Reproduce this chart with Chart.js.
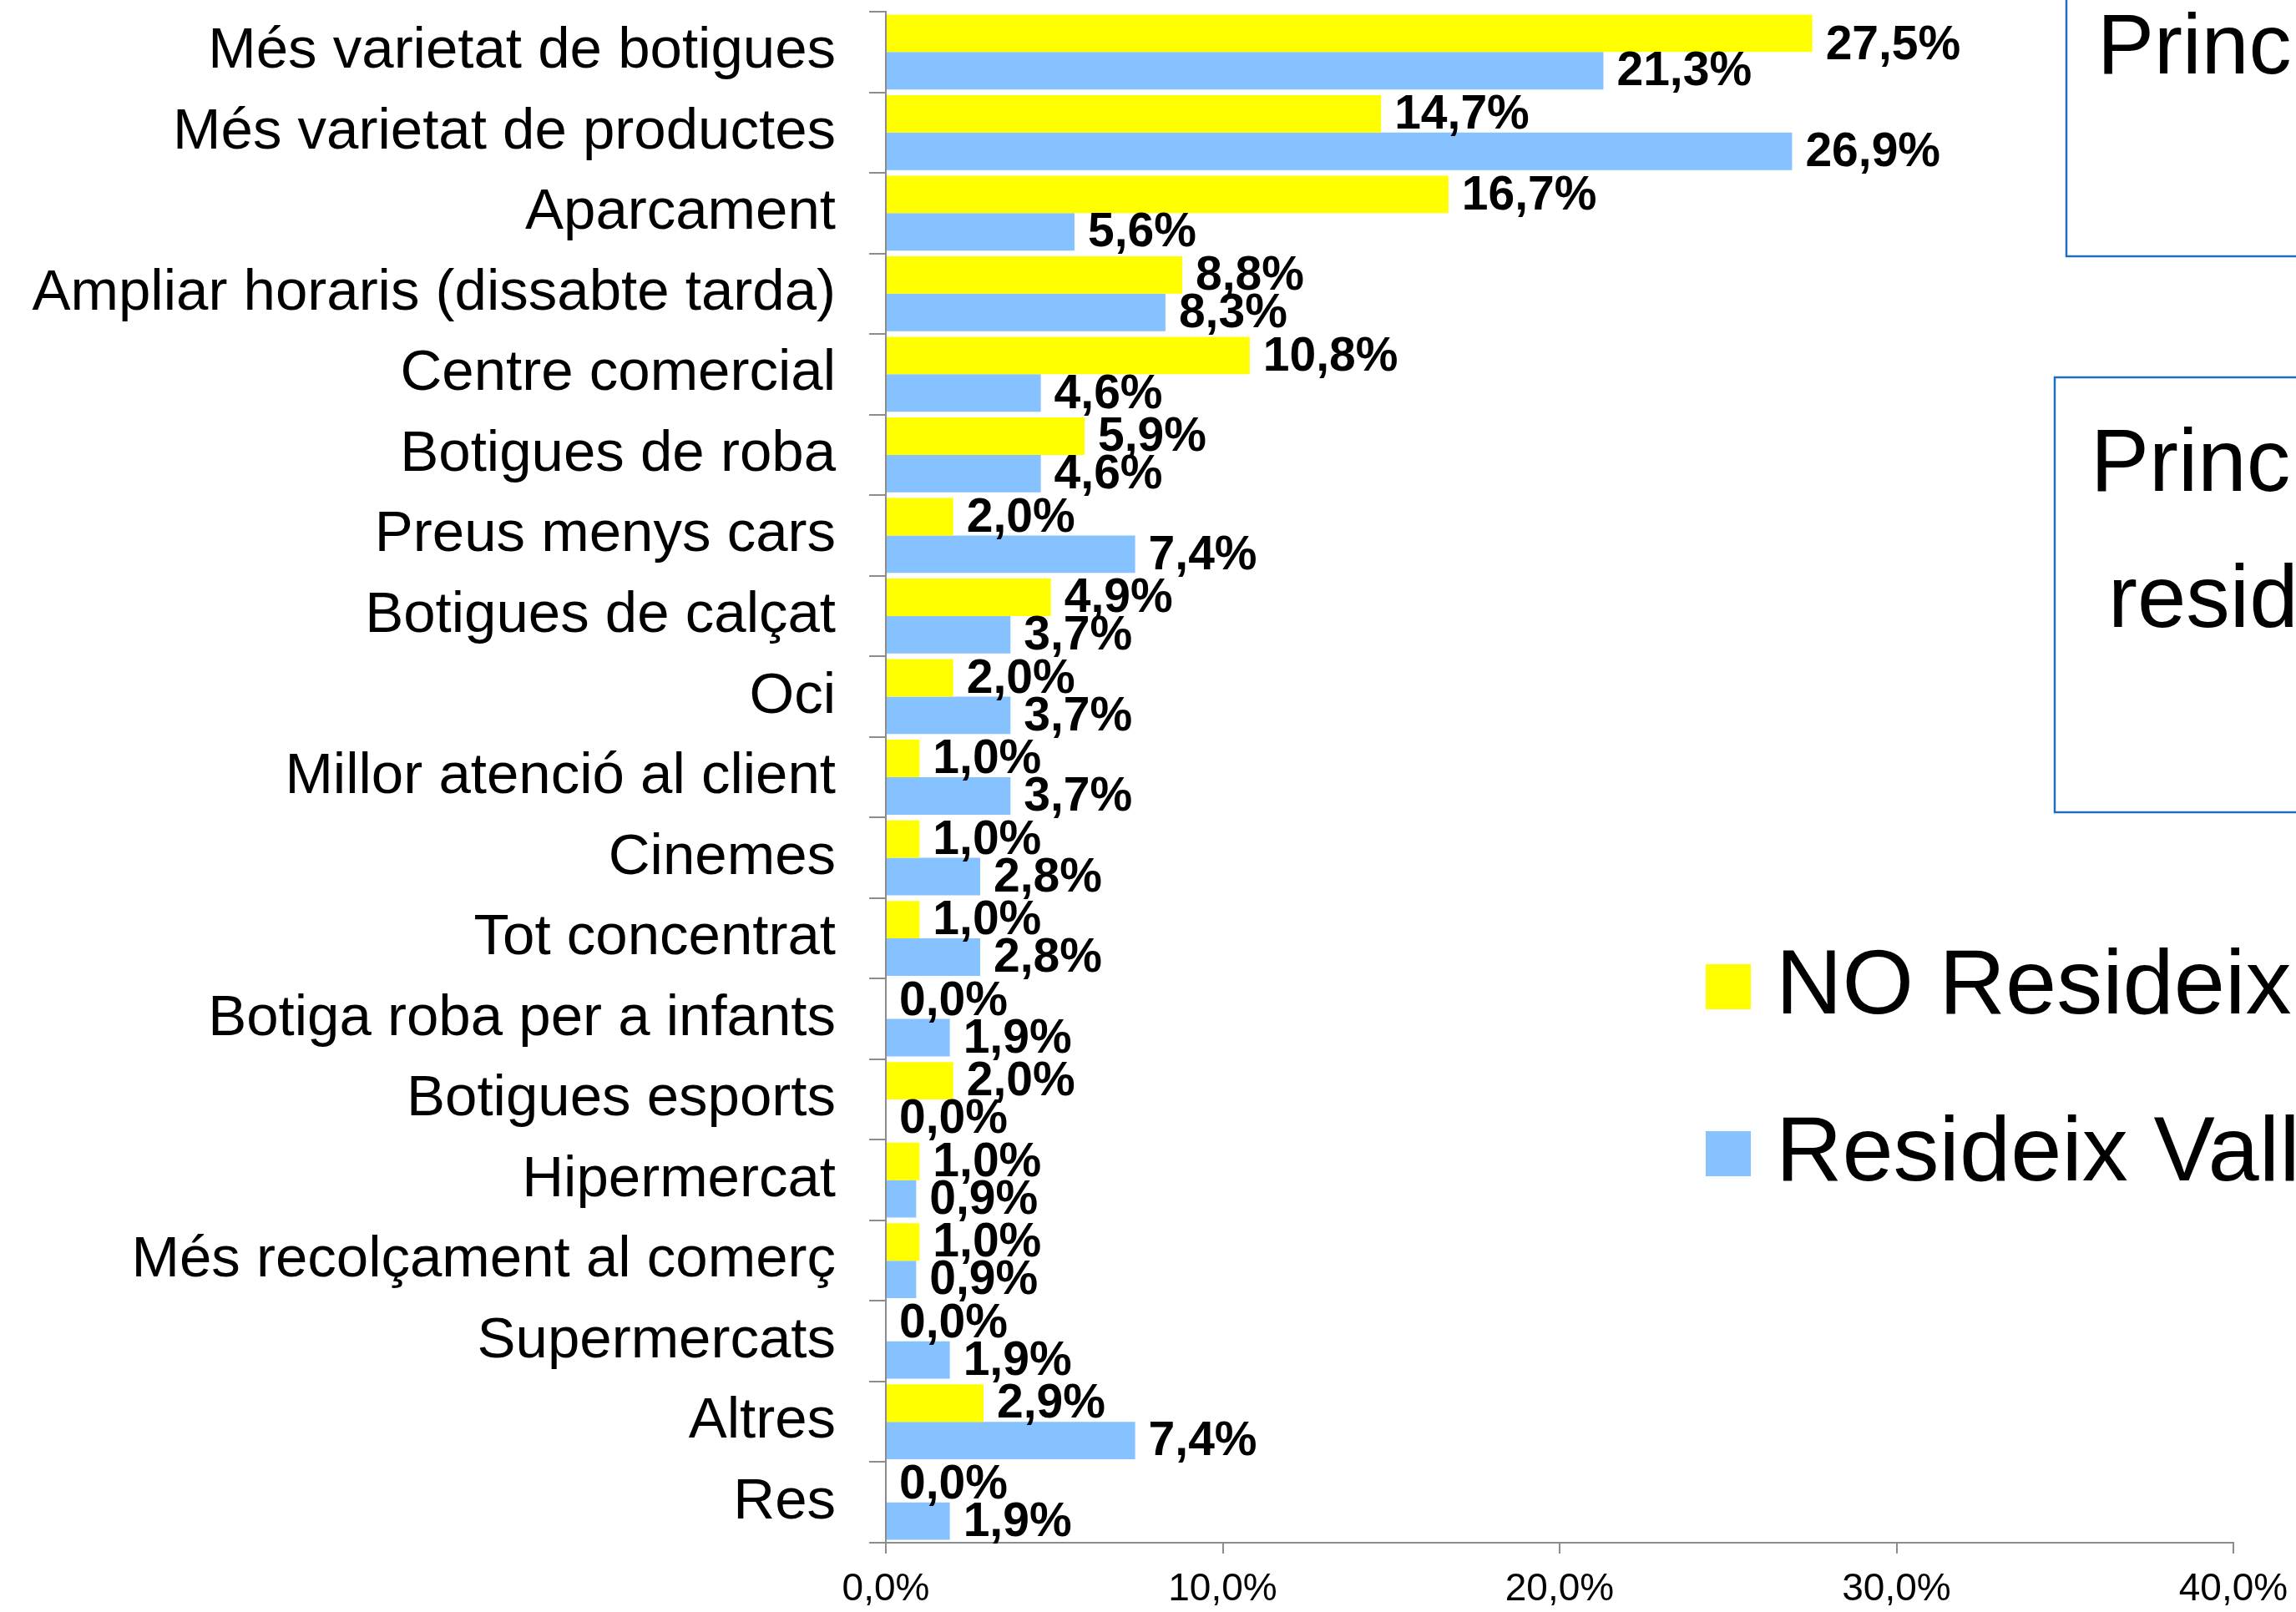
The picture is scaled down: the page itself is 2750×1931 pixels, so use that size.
<!DOCTYPE html>
<html>
<head>
<meta charset="utf-8">
<script src="https://cdn.jsdelivr.net/npm/chart.js@4/dist/chart.umd.min.js"></script>
<style>
  html, body { margin: 0; padding: 0; background: #fff; }
  #wrap { width: 2750px; height: 1931px; position: relative; }
</style>
</head>
<body>
<div id="wrap"><canvas id="chart"></canvas></div>
<script>
// --- Dades ---
const categories = [
  "Més varietat de botigues",
  "Més varietat de productes",
  "Aparcament",
  "Ampliar horaris (dissabte tarda)",
  "Centre comercial",
  "Botigues de roba",
  "Preus menys cars",
  "Botigues de calçat",
  "Oci",
  "Millor atenció al client",
  "Cinemes",
  "Tot concentrat",
  "Botiga roba per a infants",
  "Botigues esports",
  "Hipermercat",
  "Més recolçament al comerç",
  "Supermercats",
  "Altres",
  "Res"
];
const noResideix = [27.5, 14.7, 16.7, 8.8, 10.8, 5.9, 2.0, 4.9, 2.0, 1.0, 1.0, 1.0, 0.0, 2.0, 1.0, 1.0, 0.0, 2.9, 0.0];
const resideix = [21.3, 26.9, 5.6, 8.3, 4.6, 4.6, 7.4, 3.7, 3.7, 3.7, 2.8, 2.8, 1.9, 0.0, 0.9, 0.9, 1.9, 7.4, 1.9];
const seriesNames = ["NO Resideix Valls", "Resideix Valls"];
const xTicks = [0, 10, 20, 30, 40];
const boxTitles = [["Principals suggeriments"], ["Principals suggeriments dels", "residents i no residents"]];

const FONT = '"Liberation Sans", Arial, sans-serif';
const fmt = v => v.toFixed(1).replace(".", ",") + "%";

// etiquetes de valor al final de cada barra
const valueLabels = {
  id: "valueLabels",
  afterDatasetsDraw(chart) {
    const ctx = chart.ctx;
    const minY = chart.chartArea.top + 41; // l'etiqueta no surt per dalt
    ctx.save();
    ctx.font = "bold 57px " + FONT;
    ctx.fillStyle = "#000";
    ctx.textAlign = "left";
    ctx.textBaseline = "middle";
    chart.data.datasets.forEach((ds, i) => {
      chart.getDatasetMeta(i).data.forEach((bar, j) => {
        ctx.fillText(fmt(ds.data[j]), bar.x + 16, Math.max(bar.y + 2, minY));
      });
    });
    ctx.restore();
  }
};

// llegenda i quadres de títol (a la dreta, retallats)
const extras = {
  id: "extras",
  beforeDraw(chart) {
    const ctx = chart.ctx;
    ctx.save();
    ctx.fillStyle = "#fff";
    ctx.fillRect(0, 0, chart.width, chart.height);
    ctx.restore();
  },
  afterDraw(chart) {
    const ctx = chart.ctx;
    ctx.save();
    // quadres
    ctx.strokeStyle = "#1F6CC4";
    ctx.lineWidth = 2.5;
    ctx.strokeRect(2475, -10, 400, 317);
    ctx.strokeRect(2461, 452, 400, 521);
    ctx.fillStyle = "#000";
    ctx.textBaseline = "alphabetic";
    ctx.font = "102px " + FONT;
    ctx.fillText(boxTitles[0][0], 2512, 88);
    ctx.font = "105px " + FONT;
    ctx.fillText(boxTitles[1][0], 2504, 588);
    ctx.fillText(boxTitles[1][1], 2525, 751);
    // llegenda
    ctx.font = "110px " + FONT;
    ctx.textBaseline = "middle";
    chart.data.datasets.forEach((ds, i) => {
      const y = 1182 + i * 200;
      ctx.fillStyle = ds.backgroundColor;
      ctx.fillRect(2043, y - 27, 54, 54);
      ctx.fillStyle = "#000";
      ctx.fillText(ds.label, 2127, y + 2);
    });
    ctx.restore();
  }
};

new Chart(document.getElementById("chart"), {
  type: "bar",
  data: {
    labels: categories,
    datasets: [
      { label: seriesNames[0], data: noResideix, backgroundColor: "#FFFF00" },
      { label: seriesNames[1], data: resideix, backgroundColor: "#85C2FF" }
    ]
  },
  options: {
    indexAxis: "y",
    responsive: true,
    maintainAspectRatio: false,
    animation: false,
    devicePixelRatio: 1,
    layout: { padding: { top: 14, right: 75, left: 0, bottom: 0 } },
    datasets: { bar: { categoryPercentage: 0.93, barPercentage: 1.0 } },
    plugins: { legend: { display: false }, tooltip: { enabled: false } },
    scales: {
      x: {
        min: 0,
        max: 40,
        afterBuildTicks: s => { s.ticks = xTicks.map(v => ({ value: v })); },
        afterFit: s => { s.height = 83; s.paddingLeft = 0; s.paddingRight = 0; },
        grid: { drawOnChartArea: false, drawTicks: true, tickLength: 13, color: "#8c8c8c", lineWidth: 2 },
        border: { display: true, color: "#8c8c8c", width: 2 },
        ticks: {
          color: "#000",
          font: { family: FONT, size: 46 },
          padding: 16,
          maxRotation: 0,
          callback: v => fmt(v)
        }
      },
      y: {
        afterFit: s => { s.width = 1061; s.paddingTop = 0; s.paddingBottom = 0; },
        grid: { drawOnChartArea: false, drawTicks: true, tickLength: 20, offset: true, color: "#8c8c8c", lineWidth: 2 },
        border: { display: true, color: "#8c8c8c", width: 2 },
        ticks: {
          color: "#000",
          font: { family: FONT, size: 69 },
          padding: 40,
          autoSkip: false
        }
      }
    }
  },
  plugins: [valueLabels, extras]
});
</script>
</body>
</html>
